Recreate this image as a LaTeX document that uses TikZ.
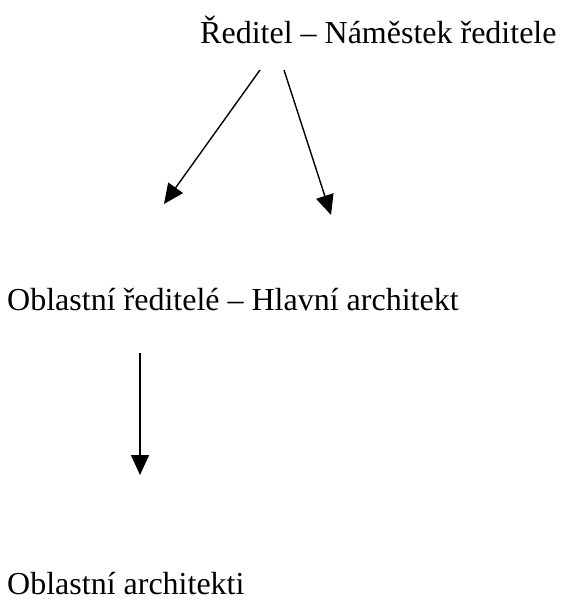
\documentclass[tikz,border=0pt]{standalone}
\usepackage{fontspec}
\setmainfont{Liberation Serif}
\usetikzlibrary{arrows.meta}
\begin{document}
\begin{tikzpicture}[x=1pt,y=-1pt,
  lbl/.style={anchor=base west,inner sep=0pt,font=\fontsize{32}{38}\selectfont},
  arr/.style={line width=1.4pt,-{Triangle[length=20pt,width=18pt]}}]
\useasboundingbox (0,0) rectangle (565,604);
\node[lbl] (t1) at (200,44) {Ředitel – Náměstek ředitele};
\node[lbl] (t2) at (7,310) {Oblastní ředitelé – Hlavní architekt};
\node[lbl] (t3) at (7,594) {Oblastní architekti};
\coordinate (a1s) at (260,70);
\coordinate (a1e) at (164,204);
\coordinate (a2s) at (284,70);
\coordinate (a2e) at (331,215);
\coordinate (a3s) at (140,353);
\coordinate (a3e) at (140,475);
\draw[arr] (a1s) -- (a1e);
\draw[arr] (a2s) -- (a2e);
\draw[arr] (a3s) -- (a3e);
\end{tikzpicture}
\end{document}
